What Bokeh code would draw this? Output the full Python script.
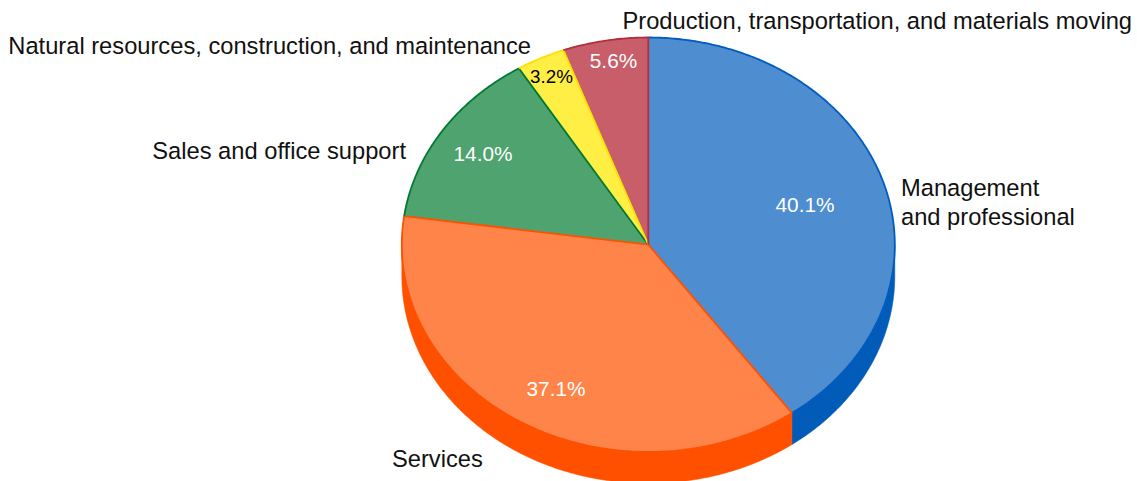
import math
from bokeh.plotting import figure
from bokeh.core.properties import value
from bokeh.embed import file_html
from bokeh.resources import INLINE

# data
categories = ["Management\nand professional", "Services", "Sales and office support",
              "Natural resources, construction, and maintenance",
              "Production, transportation, and materials moving"]
shares = [40.1, 37.1, 14.0, 3.2, 5.6]
pct_labels = ["40.1%", "37.1%", "14.0%", "3.2%", "5.6%"]

# style
top_colors = ["#4E8DCF", "#FF844A", "#4FA36F", "#FFEE44", "#C75E69"]
edge_colors = ["#005CBF", "#FF5000", "#007A33", "#FFE000", "#B0303F"]
wall_colors = ["#005CB8", "#FF5000", "#007A33", "#FFE000", "#B0303F"]
pct_colors = ["white", "white", "white", "black", "white"]
pct_sizes = ["20.8px", "20.8px", "20.8px", "18.8px", "20.8px"]

# layout (pixels in the page)
W, H = 1137, 481
CX, CY, RX, RY, DEPTH = 647.8, 244.2, 246.5, 207.2, 31.5
pct_pos = [(804.5, 204), (555.5, 388), (482.5, 153), (551, 76), (613, 60)]
cat_pos = [(900.5, 202, "left"), (391.5, 458, "left"), (405.5, 150, "right"),
           (530.5, 45, "right"), (1131.5, 20, "right")]

p = figure(width=W, height=H, x_range=(0, W), y_range=(H, 0),
           toolbar_location=None, output_backend="svg",
           min_border=0, outline_line_color=None, background_fill_color="white")
p.axis.visible = False
p.grid.visible = False


def pt(t, dy=0.0):
    return CX + RX * math.sin(t), CY - RY * math.cos(t) + dy


def arc(t0, t1):
    n = max(2, int(abs(t1 - t0) / 0.01))
    return [t0 + (t1 - t0) * i / n for i in range(n + 1)]


total = sum(shares)
bounds = [0.0]
for s in shares:
    bounds.append(bounds[-1] + s / total * 2 * math.pi)

# wall: only the front half of the rim
for i in range(len(shares)):
    a, b = max(bounds[i], math.pi / 2), min(bounds[i + 1], 3 * math.pi / 2)
    if b <= a:
        continue
    ts = arc(a, b)
    xs = [pt(t)[0] for t in ts] + [pt(t)[0] for t in reversed(ts)]
    ys = [pt(t)[1] for t in ts] + [pt(t, DEPTH)[1] for t in reversed(ts)]
    p.patch(xs, ys, fill_color=wall_colors[i], line_color=wall_colors[i], line_width=0.5)

# top faces
for i in range(len(shares)):
    ts = arc(bounds[i], bounds[i + 1])
    xs = [CX] + [pt(t)[0] for t in ts]
    ys = [CY] + [pt(t)[1] for t in ts]
    p.patch(xs, ys, fill_color=top_colors[i], line_color=None)

# edges: each radial line takes one colour only, so no colour shows under another
ts = arc(bounds[0], bounds[1])
p.line([pt(t)[0] for t in ts], [pt(t)[1] for t in ts],
       line_color=edge_colors[0], line_width=1.8)
for i in range(1, len(shares)):
    ts = arc(bounds[i], bounds[i + 1])
    xs = [pt(t)[0] for t in ts]
    ys = [pt(t)[1] for t in ts]
    if i == 1:  # services also owns the line it shares with the first slice
        xs, ys = [CX] + xs, [CY] + ys
    xs, ys = xs + [CX], ys + [CY]
    p.line(xs, ys, line_color=edge_colors[i], line_width=1.8)

FONT = value("Liberation Sans")
p.text([q[0] for q in pct_pos], [q[1] for q in pct_pos], text=pct_labels,
       text_color=pct_colors, text_font=FONT,
       text_font_size=pct_sizes, text_align="center", text_baseline="middle")
for (x, y, al), c in zip(cat_pos, categories):
    p.text([x], [y], text=[c], text_color="#111111", text_font=FONT,
           text_font_size="23.7px", text_align=al, text_baseline="middle",
           text_line_height=1.1)

open("out.html", "w").write(file_html(p, INLINE))
